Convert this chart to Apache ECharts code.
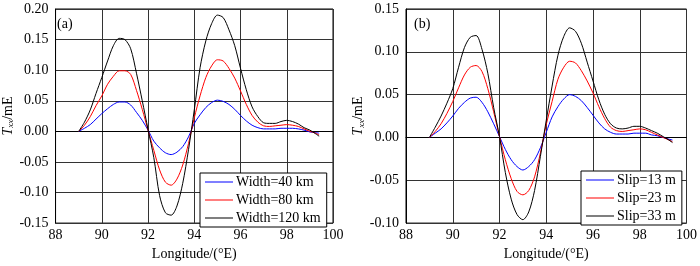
<!DOCTYPE html>
<html>
<head>
<meta charset="utf-8">
<script src="https://cdn.jsdelivr.net/npm/echarts@6/dist/echarts.min.js"></script>
<style>
  html, body { margin: 0; padding: 0; background: #fff; }
  #chart { width: 700px; height: 266px; }
</style>
</head>
<body>
<div id="chart"></div>
<script>
// longitude samples (°E)
var lon = [89, 89.25, 89.5, 89.75, 90, 90.25, 90.5, 90.75, 91, 91.25, 91.5, 91.75,
  92, 92.25, 92.5, 92.75, 93, 93.25, 93.5, 93.75, 94, 94.25, 94.5, 94.75,
  95, 95.25, 95.5, 95.75, 96, 96.25, 96.5, 96.75, 97, 97.25, 97.5, 97.75,
  98, 98.25, 98.5, 98.75, 99, 99.25, 99.4];

// (a) fault width
var width40 = [0, 0.005, 0.011, 0.020, 0.029, 0.037, 0.044, 0.048, 0.048, 0.043, 0.031, 0.018,
  0.002, -0.016, -0.027, -0.035, -0.038, -0.034, -0.025, -0.009, 0.013, 0.027, 0.039, 0.047,
  0.051, 0.049, 0.044, 0.036, 0.026, 0.017, 0.010, 0.006, 0.004, 0.004, 0.004, 0.005,
  0.005, 0.005, 0.004, 0.002, -0.001, -0.002, -0.003];
var width80 = [0, 0.010, 0.024, 0.042, 0.058, 0.077, 0.090, 0.099, 0.099, 0.093, 0.067, 0.036,
  0.002, -0.031, -0.063, -0.083, -0.088, -0.078, -0.055, -0.020, 0.022, 0.058, 0.088, 0.107,
  0.117, 0.115, 0.103, 0.087, 0.066, 0.044, 0.026, 0.015, 0.009, 0.008, 0.009, 0.010,
  0.011, 0.010, 0.008, 0.004, 0.000, -0.003, -0.006];
var width120 = [0, 0.015, 0.035, 0.062, 0.088, 0.115, 0.140, 0.152, 0.150, 0.135, 0.095, 0.050,
  0.003, -0.043, -0.105, -0.133, -0.137, -0.122, -0.085, -0.030, 0.035, 0.104, 0.148, 0.176,
  0.190, 0.186, 0.166, 0.140, 0.103, 0.068, 0.040, 0.024, 0.014, 0.013, 0.013, 0.016,
  0.018, 0.016, 0.012, 0.006, 0.002, -0.004, -0.008];

// (b) slip
var slip13 = [0, 0.005, 0.010, 0.017, 0.025, 0.034, 0.041, 0.046, 0.047, 0.041, 0.030, 0.016,
  0.001, -0.014, -0.026, -0.034, -0.038, -0.034, -0.026, -0.012, 0.006, 0.024, 0.036, 0.045,
  0.050, 0.048, 0.043, 0.035, 0.026, 0.017, 0.010, 0.006, 0.004, 0.004, 0.004, 0.005,
  0.005, 0.005, 0.003, 0.002, 0.000, -0.002, -0.003];
var slip23 = [0, 0.007, 0.016, 0.028, 0.042, 0.058, 0.073, 0.082, 0.084, 0.077, 0.057, 0.030,
  0.001, -0.026, -0.048, -0.063, -0.067, -0.062, -0.046, -0.018, 0.015, 0.042, 0.068, 0.082,
  0.089, 0.087, 0.078, 0.066, 0.052, 0.036, 0.022, 0.012, 0.008, 0.007, 0.008, 0.009,
  0.010, 0.009, 0.006, 0.003, 0.000, -0.003, -0.005];
var slip33 = [0, 0.012, 0.025, 0.040, 0.057, 0.082, 0.105, 0.117, 0.119, 0.103, 0.075, 0.035,
  0.001, -0.041, -0.072, -0.090, -0.096, -0.087, -0.062, -0.022, 0.020, 0.060, 0.096, 0.118,
  0.128, 0.124, 0.110, 0.088, 0.066, 0.044, 0.027, 0.016, 0.011, 0.010, 0.011, 0.013,
  0.013, 0.011, 0.008, 0.005, 0.001, -0.003, -0.006];

var xTicks = [88, 90, 92, 94, 96, 98, 100];
var namesA = ["Width=40 km", "Width=80 km", "Width=120 km"];
var namesB = ["Slip=13 m", "Slip=23 m", "Slip=33 m"];
var colors = ["#0000ff", "#ff0000", "#000000"];

var font = "Liberation Serif";
// thin horizontal bar in a 28x14 box (tiny corner dots keep the box size)
var lineIcon = "path://M0,0 L0.01,0 L0.01,0.01 Z M0,6.5 L28,6.5 L28,7.6 L0,7.6 Z M27.99,14 L28,14 L28,13.99 Z";

function pairs(ys) {
  return lon.map(function (x, i) { return [x, ys[i]]; });
}

function xAxisFor(idx) {
  return {
    type: "value",
    gridIndex: idx,
    min: xTicks[0],
    max: xTicks[xTicks.length - 1],
    interval: 2,
    name: "Longitude/(°E)",
    nameLocation: "middle",
    nameGap: 21,
    nameTextStyle: { fontFamily: font, fontSize: 14, color: "#000" },
    axisLine: { show: true, lineStyle: { color: "#000", width: 1 } },
    axisTick: { show: false },
    axisLabel: { fontFamily: font, fontSize: 14, color: "#000", margin: 5 },
    splitLine: { show: true, lineStyle: { color: "#333", width: 1 } }
  };
}

function yAxisFor(idx, min, max) {
  return {
    type: "value",
    gridIndex: idx,
    min: min,
    max: max,
    interval: 0.05,
    name: "{t|T}{s|xx}{n|/mE}",
    nameLocation: "middle",
    nameGap: 39,
    nameRotate: 90,
    nameTextStyle: {
      color: "#000",
      rich: {
        t: { fontFamily: font, fontSize: 14, fontStyle: "italic", color: "#000" },
        s: { fontFamily: font, fontSize: 9, fontStyle: "italic", color: "#000", verticalAlign: "bottom", padding: [6, 0, 0, 0] },
        n: { fontFamily: font, fontSize: 14, color: "#000" }
      }
    },
    axisLine: { show: true, lineStyle: { color: "#000", width: 1 } },
    axisTick: { show: false },
    axisLabel: {
      fontFamily: font, fontSize: 14, color: "#000", margin: 7,
      formatter: function (v) { return v.toFixed(2); }
    },
    splitLine: { show: true, lineStyle: { color: "#333", width: 1 } }
  };
}

function lineSeries(name, ys, idx, color) {
  return {
    name: name,
    type: "line",
    xAxisIndex: idx,
    yAxisIndex: idx,
    data: pairs(ys),
    smooth: 0.3,
    symbol: "none",
    lineStyle: { color: color, width: 1 },
    itemStyle: { color: color },
    animation: false
  };
}

function legendFor(names, left, top, padRight) {
  return {
    data: names.map(function (n) { return { name: n, icon: lineIcon }; }),
    orient: "vertical",
    left: left,
    top: top,
    itemWidth: 28,
    itemHeight: 14,
    itemGap: 4,
    padding: [2, padRight, 2, 5],
    backgroundColor: "#fff",
    borderColor: "#000",
    borderWidth: 1,
    textStyle: { fontFamily: font, fontSize: 14, color: "#000", padding: [0, 0, 0, -2] }
  };
}

var chart = echarts.init(document.getElementById("chart"));
chart.setOption({
  backgroundColor: "#fff",
  animation: false,
  grid: [
    { left: 50, right: 367, top: 9, bottom: 34, show: true, borderColor: "#000", borderWidth: 1 },
    { left: 406, right: 10, top: 9, bottom: 34, show: true, borderColor: "#000", borderWidth: 1 }
  ],
  xAxis: [xAxisFor(0), xAxisFor(1)],
  yAxis: [yAxisFor(0, -0.15, 0.2), yAxisFor(1, -0.1, 0.15)],
  legend: [
    legendFor(namesA, 200, 173, 6),
    legendFor(namesB, 581, 171, 6)
  ],
  graphic: [
    { type: "text", left: 57, top: 17, style: { text: "(a)", font: "14px Liberation Serif", fill: "#000" } },
    { type: "text", left: 414, top: 17, style: { text: "(b)", font: "14px Liberation Serif", fill: "#000" } }
  ],
  series: [
    lineSeries(namesA[0], width40, 0, colors[0]),
    lineSeries(namesA[1], width80, 0, colors[1]),
    lineSeries(namesA[2], width120, 0, colors[2]),
    lineSeries(namesB[0], slip13, 1, colors[0]),
    lineSeries(namesB[1], slip23, 1, colors[1]),
    lineSeries(namesB[2], slip33, 1, colors[2])
  ]
});
</script>
</body>
</html>
